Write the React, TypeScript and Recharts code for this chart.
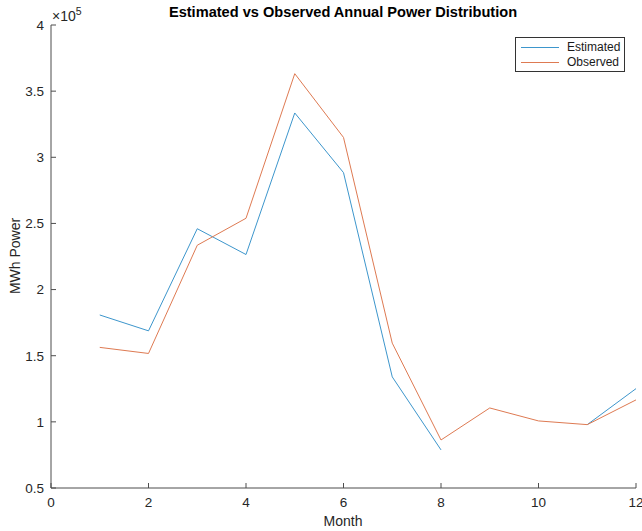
import React from 'react';
import { LineChart, Line, XAxis, YAxis } from 'recharts';

const months = [1, 2, 3, 4, 5, 6, 7, 8, 9, 10, 11, 12];
const estimated: (number | null)[] = [180800, 168800, 246000, 226500, 333500, 288400, 134000, 78800, null, null, 97900, 125100];
const observed = [156300, 151700, 233500, 253900, 363200, 315000, 159500, 86300, 110500, 100700, 97900, 116600];
const xTicks = [0, 2, 4, 6, 8, 10, 12];
const yTicks = [50000, 100000, 150000, 200000, 250000, 300000, 350000, 400000];

const data = months.map((m, i) => ({ month: m, Estimated: estimated[i], Observed: observed[i] }));

const FONT = '"Liberation Sans", Arial, Helvetica, sans-serif';
const AXIS = '#4d4d4d';
const BLUE = '#3d96cc';
const ORANGE = '#de7a52';

const fmtY = (v: number) => String(Math.round((v / 100000) * 10) / 10);

const LegendBox = () => (
  <div
    style={{
      position: 'absolute',
      left: 515,
      top: 37,
      border: '1px solid #333',
      background: '#fff',
      width: 110,
      height: 35,
      boxSizing: 'border-box',
      fontFamily: FONT,
      fontSize: 12,
      color: '#1a1a1a',
      padding: '2px 0 0 5px',
      lineHeight: '15px',
    }}
  >
    {[{ n: 'Estimated', c: BLUE }, { n: 'Observed', c: ORANGE }].map((e) => (
      <div key={e.n} style={{ display: 'flex', alignItems: 'center' }}>
        <div style={{ width: 38, height: 1, background: e.c, marginRight: 8 }} />
        <span>{e.n}</span>
      </div>
    ))}
  </div>
);

export default function App() {
  return (
    <div style={{ position: 'absolute', left: 0, top: 0, width: 642, height: 531, background: '#fff' }}>
      <LineChart
        width={642}
        height={531}
        data={data}
        margin={{ top: 25, right: 6, bottom: 0, left: 0 }}
      >
        <XAxis
          xAxisId="b"
          dataKey="month"
          type="number"
          domain={[0, 12]}
          ticks={xTicks}
          interval={0}
          allowDataOverflow
          stroke={AXIS}
          tickSize={-5}
          tickMargin={14}
          tick={{ fill: '#262626', fontSize: 13.5, fontFamily: FONT }}
          height={43}
        />
        <XAxis
          xAxisId="t"
          orientation="top"
          dataKey="month"
          type="number"
          domain={[0, 12]}
          ticks={xTicks}
          interval={0}
          stroke={AXIS}
          tickSize={-5}
          tickFormatter={() => ''}
          height={0}
        />
        <YAxis
          yAxisId="l"
          type="number"
          domain={[50000, 400000]}
          ticks={yTicks}
          interval={0}
          allowDataOverflow
          width={51}
          stroke={AXIS}
          tickSize={-5}
          tickMargin={12}
          tickFormatter={fmtY}
          tick={{ fill: '#262626', fontSize: 13.5, fontFamily: FONT }}
        />
        <YAxis
          yAxisId="r"
          orientation="right"
          type="number"
          domain={[50000, 400000]}
          ticks={yTicks}
          interval={0}
          width={0}
          stroke={AXIS}
          tickSize={-5}
          tickFormatter={() => ''}
        />
        <Line
          xAxisId="b"
          yAxisId="l"
          dataKey="Estimated"
          stroke={BLUE}
          strokeWidth={1}
          dot={false}
          activeDot={false}
          connectNulls={false}
          isAnimationActive={false}
        />
        <Line
          xAxisId="b"
          yAxisId="l"
          dataKey="Observed"
          stroke={ORANGE}
          strokeWidth={1}
          dot={false}
          activeDot={false}
          isAnimationActive={false}
        />
        <text x={343} y={17} textAnchor="middle" fontFamily={FONT} fontWeight="bold" fontSize={14.6} fill="#000">
          Estimated vs Observed Annual Power Distribution
        </text>
        <text x={52} y={21} fontFamily={FONT} fontSize={14} fill="#262626">
          ×10
          <tspan dy={-6} fontSize={10.5}>5</tspan>
        </text>
        <text x={343} y={526} textAnchor="middle" fontFamily={FONT} fontSize={14} fill="#262626">
          Month
        </text>
        <text
          x={20}
          y={256}
          textAnchor="middle"
          fontFamily={FONT}
          fontSize={14}
          fill="#262626"
          transform="rotate(-90 20 256)"
        >
          MWh Power
        </text>
      </LineChart>
      <LegendBox />
    </div>
  );
}
